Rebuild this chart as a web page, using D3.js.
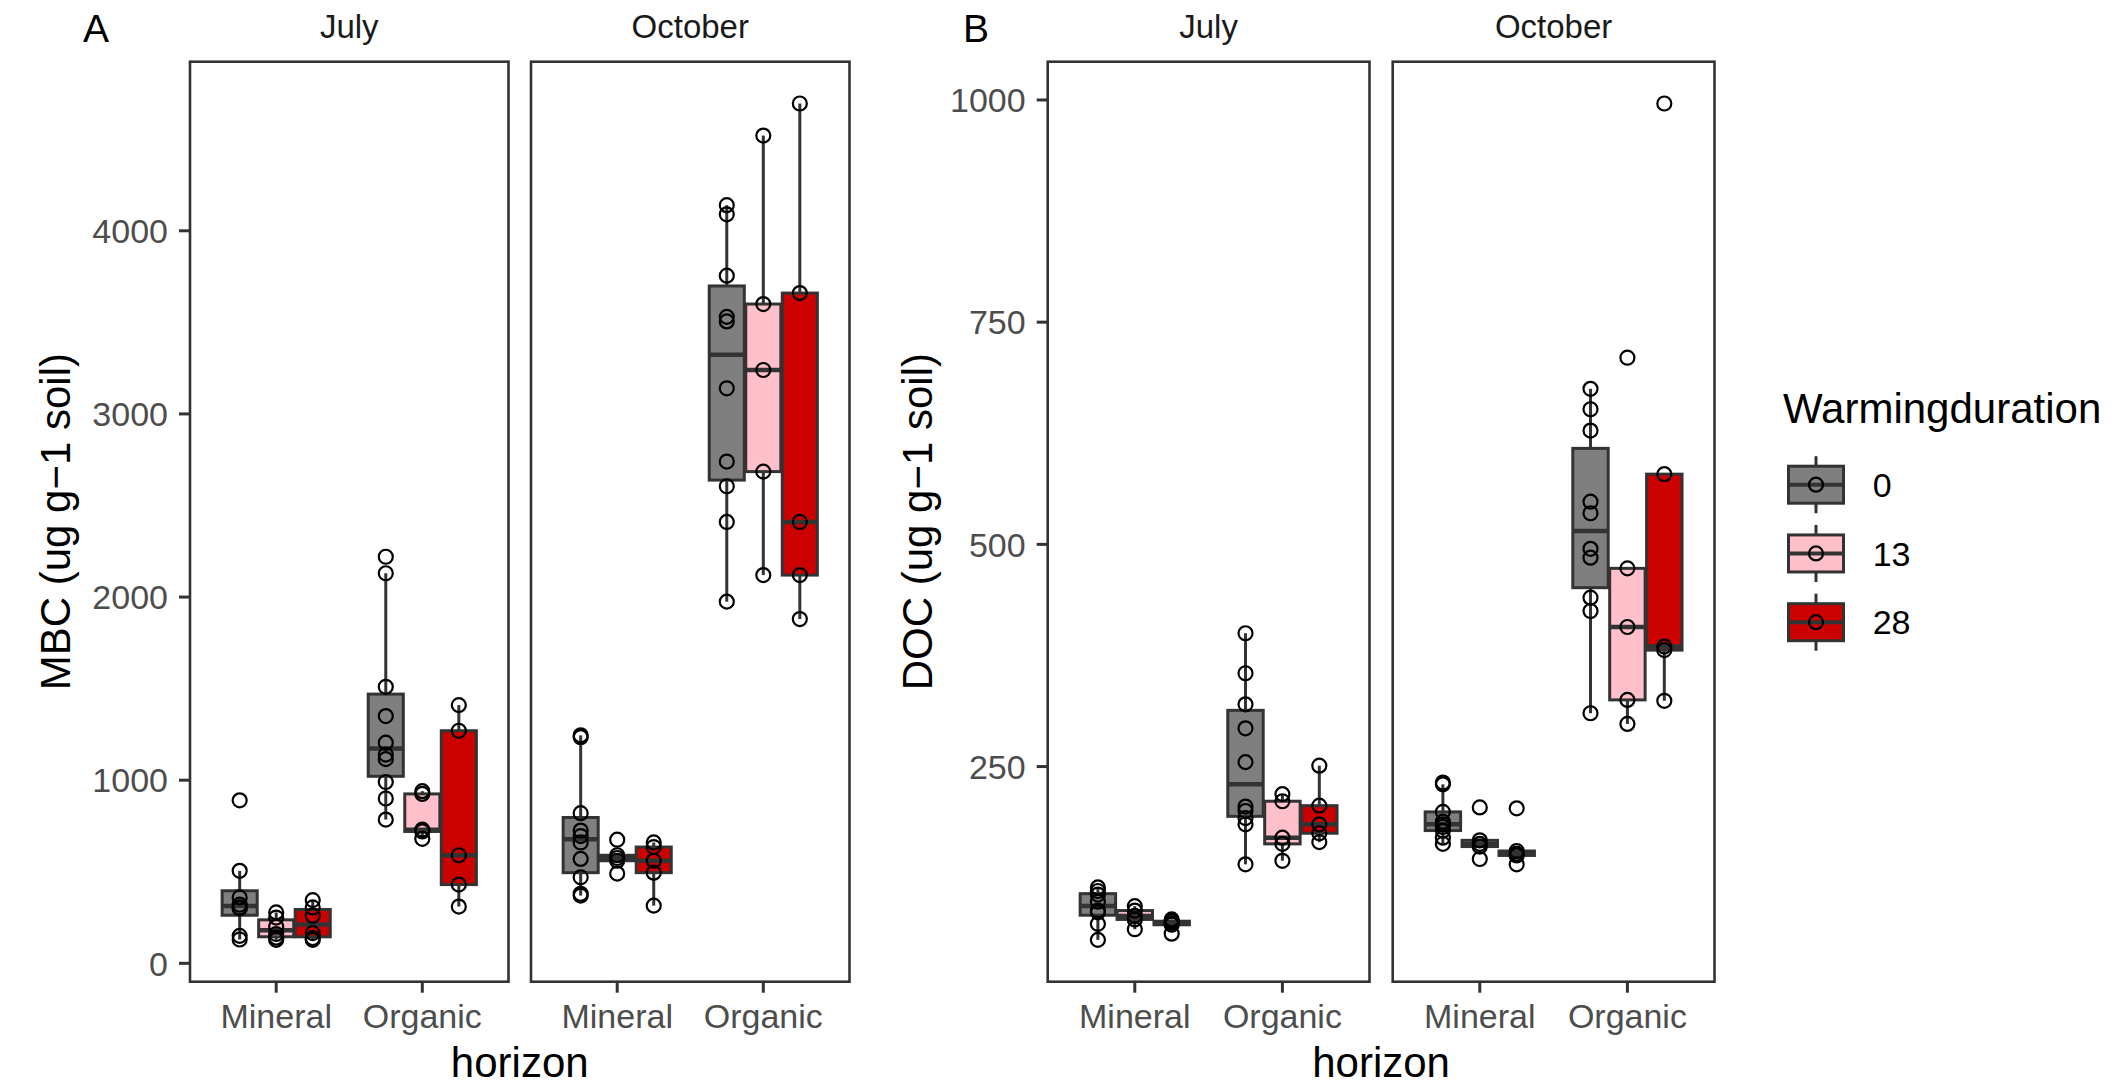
<!DOCTYPE html>
<html>
<head>
<meta charset="utf-8">
<script src="https://cdn.jsdelivr.net/npm/d3@7"></script>
<style>
  body { margin: 0; background: #fff; }
  svg { display: block; }
  text { font-family: "Liberation Sans", Arial, Helvetica, sans-serif; }
</style>
</head>
<body>
<svg id="chart" width="2122" height="1085"></svg>
<script>
// categories
const months = ["July", "October"];
const horizons = ["Mineral", "Organic"];
const durations = ["0", "13", "28"];
const durationColors = ["#7f7f7f", "#ffc0cb", "#cd0000"];

// MBC values, one list per warming duration (0, 13, 28)
const mbcJulyMineral = [
    [130, 150, 300, 305, 320, 360, 505, 890],
    [128, 140, 160, 200, 250, 278],
    [128, 138, 165, 260, 305, 345]
];
const mbcJulyOrganic = [
    [785, 900, 990, 1115, 1140, 1205, 1350, 1510, 2130, 2220],
    [680, 720, 730, 925, 940],
    [310, 430, 590, 1270, 1410]
];
const mbcOctMineral = [
    [370, 380, 470, 570, 660, 695, 725, 820, 1235, 1245],
    [490, 560, 575, 590, 675],
    [315, 495, 560, 635, 660]
];
const mbcOctOrganic = [
    [1975, 2410, 2605, 2740, 3140, 3505, 3530, 3755, 4090, 4140],
    [2120, 2685, 3240, 3600, 4520],
    [1880, 2120, 2410, 3660, 4695]
];

// DOC values
const docJulyMineral = [
    [55, 73, 86, 88, 98, 106, 110, 114],
    [67, 78, 82, 88, 93],
    [62, 72, 74, 76, 78]
];
const docJulyOrganic = [
    [140, 185, 192, 200, 205, 255, 293, 320, 355, 400],
    [144, 163, 170, 211, 219],
    [165, 175, 185, 206, 251]
];
const docOctMineral = [
    [163, 170, 178, 182, 185, 188, 199, 230, 232],
    [146, 160, 163, 167, 204],
    [140, 150, 152, 155, 203]
];
const docOctOrganic = [
    [310, 425, 440, 485, 495, 535, 548, 628, 652, 675],
    [298, 325, 407, 473, 710],
    [324, 381, 385, 579, 996]
];

// tick labels
const mbcTicks = [0, 1000, 2000, 3000, 4000];
const docTicks = [250, 500, 750, 1000];

const svg = d3.select("#chart");
const panelTop = 61.7, panelBottom = 981.7;
const ink = "#333333";

const figures = [
    {tag: "A", tagX: 83, ylab: "MBC (ug g\u22121 soil)", ylabX: 70, ticks: mbcTicks,
     left: 190, width: 318.5, gap: 22.5,
     values: [[mbcJulyMineral, mbcJulyOrganic], [mbcOctMineral, mbcOctOrganic]]},
    {tag: "B", tagX: 963, ylab: "DOC (ug g\u22121 soil)", ylabX: 932, ticks: docTicks,
     left: 1047.7, width: 321.8, gap: 23.2,
     values: [[docJulyMineral, docJulyOrganic], [docOctMineral, docOctOrganic]]}
];

// box statistics like ggplot (type 7 quantiles, 1.5 IQR whiskers)
function boxStats(v) {
    const s = v.slice().sort(d3.ascending);
    const q1 = d3.quantileSorted(s, 0.25);
    const med = d3.quantileSorted(s, 0.5);
    const q3 = d3.quantileSorted(s, 0.75);
    const iqr = q3 - q1;
    const lo = d3.min(s.filter(d => d >= q1 - 1.5 * iqr));
    const hi = d3.max(s.filter(d => d <= q3 + 1.5 * iqr));
    return {q1, med, q3, lo, hi};
}

figures.forEach(function(fig) {
    const all = fig.values.flat(3);
    const ext = d3.extent(all);
    const pad = (ext[1] - ext[0]) * 0.05;
    const y = d3.scaleLinear()
        .domain([ext[0] - pad, ext[1] + pad])
        .range([panelBottom, panelTop]);

    const g = svg.append("g");

    // tag
    g.append("text")
        .attr("x", fig.tagX).attr("y", 41.5)
        .attr("font-size", 39).attr("fill", "#000")
        .text(fig.tag);

    // y axis: ticks + labels
    const yAxis = g.append("g");
    yAxis.selectAll("line")
        .data(fig.ticks)
        .join("line")
        .attr("x1", fig.left - 11).attr("x2", fig.left)
        .attr("y1", d => y(d)).attr("y2", d => y(d))
        .attr("stroke", ink).attr("stroke-width", 3);
    yAxis.selectAll("text")
        .data(fig.ticks)
        .join("text")
        .attr("x", fig.left - 22)
        .attr("y", d => y(d))
        .attr("dy", "0.36em")
        .attr("text-anchor", "end")
        .attr("font-size", 34)
        .attr("fill", "#4d4d4d")
        .text(d => d);

    // y title
    g.append("text")
        .attr("transform", `translate(${fig.ylabX},${(panelTop + panelBottom) / 2}) rotate(-90)`)
        .attr("text-anchor", "middle")
        .attr("font-size", 42).attr("fill", "#000")
        .text(fig.ylab);

    months.forEach(function(month, mi) {
        const x0 = fig.left + mi * (fig.width + fig.gap);
        const x = d3.scalePoint()
            .domain(horizons)
            .range([x0, x0 + fig.width])
            .padding(0.59);
        const step = x.step();

        const panel = g.append("g");
        panel.append("rect")
            .attr("x", x0).attr("y", panelTop)
            .attr("width", fig.width).attr("height", panelBottom - panelTop)
            .attr("fill", "#fff");

        // strip label
        g.append("text")
            .attr("x", x0 + fig.width / 2).attr("y", 38)
            .attr("text-anchor", "middle")
            .attr("font-size", 33).attr("fill", "#1a1a1a")
            .text(month);

        // boxes
        const groups = [];
        horizons.forEach(function(h, hi) {
            fig.values[mi][hi].forEach(function(vals, di) {
                groups.push({
                    cx: x(h) + (di - 1) * step * 0.25,
                    color: durationColors[di],
                    vals: vals,
                    st: boxStats(vals)
                });
            });
        });

        const bw = step * 0.24;
        const box = panel.selectAll(".box")
            .data(groups)
            .join("g")
            .attr("class", "box");

        box.append("line")
            .attr("x1", d => d.cx).attr("x2", d => d.cx)
            .attr("y1", d => y(d.st.hi)).attr("y2", d => y(d.st.q3))
            .attr("stroke", ink).attr("stroke-width", 3);
        box.append("line")
            .attr("x1", d => d.cx).attr("x2", d => d.cx)
            .attr("y1", d => y(d.st.q1)).attr("y2", d => y(d.st.lo))
            .attr("stroke", ink).attr("stroke-width", 3);
        box.append("rect")
            .attr("x", d => d.cx - bw / 2)
            .attr("y", d => y(d.st.q3))
            .attr("width", bw)
            .attr("height", d => Math.max(0.5, y(d.st.q1) - y(d.st.q3)))
            .attr("fill", d => d.color)
            .attr("stroke", ink).attr("stroke-width", 3);
        box.append("line")
            .attr("x1", d => d.cx - bw / 2).attr("x2", d => d.cx + bw / 2)
            .attr("y1", d => y(d.st.med)).attr("y2", d => y(d.st.med))
            .attr("stroke", ink).attr("stroke-width", 4.5);

        // points
        box.selectAll("circle")
            .data(d => d.vals.map(v => ({cx: d.cx, v: v})))
            .join("circle")
            .attr("cx", d => d.cx)
            .attr("cy", d => y(d.v))
            .attr("r", 7)
            .attr("fill", "none")
            .attr("stroke", "#000")
            .attr("stroke-width", 2.2);

        // border
        panel.append("rect")
            .attr("x", x0).attr("y", panelTop)
            .attr("width", fig.width).attr("height", panelBottom - panelTop)
            .attr("fill", "none")
            .attr("stroke", ink).attr("stroke-width", 2.6);

        // x ticks + labels
        g.selectAll(null)
            .data(horizons)
            .join("line")
            .attr("x1", d => x(d)).attr("x2", d => x(d))
            .attr("y1", panelBottom).attr("y2", panelBottom + 11)
            .attr("stroke", ink).attr("stroke-width", 3);
        g.selectAll(null)
            .data(horizons)
            .join("text")
            .attr("x", d => x(d)).attr("y", 1028)
            .attr("text-anchor", "middle")
            .attr("font-size", 34).attr("fill", "#4d4d4d")
            .text(d => d);
    });

    // x title
    g.append("text")
        .attr("x", fig.left + fig.width + fig.gap / 2)
        .attr("y", 1077)
        .attr("text-anchor", "middle")
        .attr("font-size", 42).attr("fill", "#000")
        .text("horizon");
});

// legend
const legend = svg.append("g");
legend.append("text")
    .attr("x", 1783).attr("y", 423)
    .attr("font-size", 42).attr("fill", "#000")
    .text("Warmingduration");

const keyY = d3.scalePoint().domain(durations).range([484.7, 622.2]);
const kx = 1816, kw = 55, kh = 37;
const key = legend.selectAll(".key")
    .data(durations)
    .join("g")
    .attr("class", "key")
    .attr("transform", d => `translate(0,${keyY(d)})`);
key.append("line")
    .attr("x1", kx).attr("x2", kx).attr("y1", -28.5).attr("y2", 28.5)
    .attr("stroke", ink).attr("stroke-width", 3);
key.append("rect")
    .attr("x", kx - kw / 2).attr("y", -kh / 2)
    .attr("width", kw).attr("height", kh)
    .attr("fill", (d, i) => durationColors[i])
    .attr("stroke", ink).attr("stroke-width", 3);
key.append("line")
    .attr("x1", kx - kw / 2).attr("x2", kx + kw / 2)
    .attr("stroke", ink).attr("stroke-width", 4);
key.append("circle")
    .attr("cx", kx).attr("r", 7)
    .attr("fill", "none").attr("stroke", "#000").attr("stroke-width", 2.2);
key.append("text")
    .attr("x", 1872.7).attr("dy", "0.36em")
    .attr("font-size", 34).attr("fill", "#000")
    .text(d => d);
</script>
</body>
</html>
